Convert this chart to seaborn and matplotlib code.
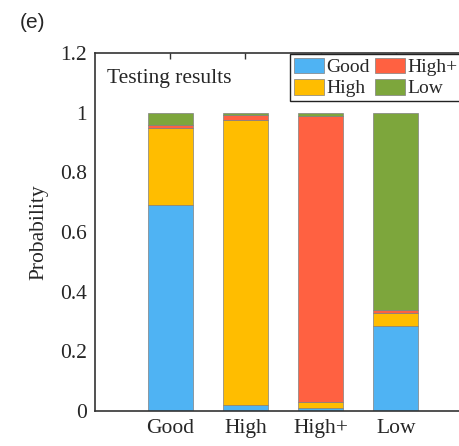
import numpy as np
import pandas as pd
import matplotlib
matplotlib.use("Agg")
import matplotlib.pyplot as plt
import seaborn as sns
from matplotlib.patches import Patch
from matplotlib.ticker import FuncFormatter

# ---- data ----
categories = ["Good", "High", "High+", "Low"]
components = ["Good", "High", "High+", "Low"]
good_vals = [0.69, 0.02, 0.01, 0.285]
high_vals = [0.26, 0.955, 0.02, 0.045]
highp_vals = [0.01, 0.017, 0.96, 0.01]
low_vals = [0.04, 0.008, 0.01, 0.66]
colors = ["#4FB3F3", "#FFBD00", "#FF6141", "#7DA63C"]

sns.set_theme(style="white")
plt.rcParams["font.family"] = ["Liberation Serif", "DejaVu Serif"]

rows = []
for comp, vals in zip(components, [good_vals, high_vals, highp_vals, low_vals]):
    for i, v in enumerate(vals):
        rows.append({"pos": i + 1, "comp": comp, "p": v})
df = pd.DataFrame(rows)

fig = plt.figure(figsize=(4.59, 4.46), dpi=100)
ax = fig.add_axes([95 / 459, 35 / 446, 376 / 459, 358 / 446])

sns.histplot(data=df, x="pos", weights="p", hue="comp",
             hue_order=components[::-1], palette=colors[::-1],
             multiple="stack", discrete=True, shrink=0.6,
             edgecolor="#808080", linewidth=0.5, alpha=1,
             legend=False, ax=ax)

ax.set_xlim(0, 5)
ax.set_ylim(0, 1.2)
ax.set_xticks([1, 2, 3, 4])
ax.set_xticklabels(categories)
ax.set_yticks(np.arange(0, 1.21, 0.2))
ax.yaxis.set_major_formatter(FuncFormatter(lambda v, p: f"{v:g}"))
ax.set_xlabel("")
ax.set_ylabel("Probability", fontsize=15.5, labelpad=8)
ax.tick_params(axis="both", labelsize=15.5, direction="in", length=4,
               width=1, color="#333333", top=True, right=True, pad=6)
for s in ax.spines.values():
    s.set_color("#333333")
    s.set_linewidth(1.2)
    s.set_visible(True)

ax.text(0.16, 1.115, "Testing results", fontsize=15.5, va="center", ha="left")

handles = [Patch(facecolor=c, edgecolor="#808080", linewidth=0.5) for c in colors]
leg = ax.legend(handles, components, ncol=2, loc="upper left",
                bbox_to_anchor=(195 / 376, 0.998), fontsize=14,
                handlelength=1.55, handleheight=0.85, handletextpad=0.1,
                columnspacing=0.3, borderpad=0.2, labelspacing=0.15,
                borderaxespad=0, fancybox=False, framealpha=1)
leg.get_frame().set_edgecolor("#222222")
leg.get_frame().set_linewidth(1.0)

fig.text(20 / 459, 1 - 22 / 446, "(e)", fontsize=15, family="Liberation Sans",
         va="center", ha="left")

fig.savefig("out.png", dpi=100)
